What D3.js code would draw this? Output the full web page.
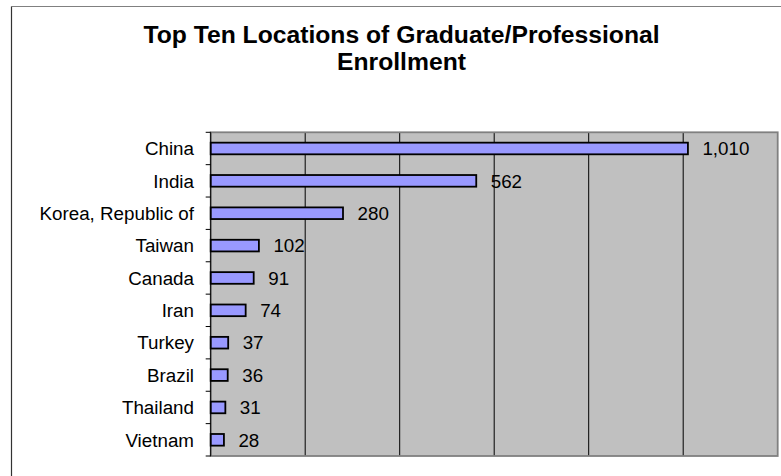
<!DOCTYPE html>
<html>
<head>
<meta charset="utf-8">
<script src="https://cdn.jsdelivr.net/npm/d3@7"></script>
<style>
  html, body { margin: 0; padding: 0; background: #fff; }
  svg { display: block; }
  text { font-family: "Liberation Sans", Arial, sans-serif; }
</style>
</head>
<body>
<div id="chart"></div>
<script>
// ---- data ----
const categories = ["China", "India", "Korea, Republic of", "Taiwan", "Canada", "Iran", "Turkey", "Brazil", "Thailand", "Vietnam"];
const values = [1010, 562, 280, 102, 91, 74, 37, 36, 31, 28];
const xTicks = [0, 200, 400, 600, 800, 1000, 1200];
const titleLines = ["Top Ten Locations of Graduate/Professional", "Enrollment"];

// ---- layout ----
const W = 781, H = 476;
const plot = { left: 210.7, right: 777.7, top: 132.3, bottom: 456 };

const svg = d3.select("#chart").append("svg")
  .attr("width", W).attr("height", H);

svg.append("rect").attr("width", W).attr("height", H).attr("fill", "#fff");

// outer chart border (extends beyond the image at right/bottom)
svg.append("line").attr("x1", 11.5).attr("x2", W + 5).attr("y1", 6.5).attr("y2", 6.5)
  .attr("stroke", "#808080").attr("stroke-width", 1.2);
svg.append("line").attr("x1", 11.5).attr("x2", 11.5).attr("y1", 6.5).attr("y2", H + 5)
  .attr("stroke", "#333").attr("stroke-width", 1.2);

// title
svg.append("g").selectAll("text").data(titleLines).join("text")
  .attr("x", 401.5)
  .attr("y", (d, i) => 43.3 + i * 26.7)
  .attr("text-anchor", "middle")
  .attr("font-size", 24.7)
  .attr("font-weight", "bold")
  .attr("fill", "#000")
  .text(d => d);

// scales
const x = d3.scaleLinear().domain([xTicks[0], xTicks[xTicks.length - 1]]).range([plot.left, plot.right]);
const y = d3.scaleBand().domain(categories).range([plot.top, plot.bottom])
  .paddingInner(0.64).paddingOuter(0.32);

// plot background
svg.append("rect")
  .attr("x", plot.left).attr("y", plot.top)
  .attr("width", plot.right - plot.left).attr("height", plot.bottom - plot.top)
  .attr("fill", "#C0C0C0");

// gridlines
svg.append("g").selectAll("line").data(xTicks.slice(1, -1)).join("line")
  .attr("x1", d => x(d)).attr("x2", d => x(d))
  .attr("y1", plot.top).attr("y2", plot.bottom)
  .attr("stroke", "#000").attr("stroke-width", 1);

// plot border
svg.append("rect")
  .attr("x", plot.left).attr("y", plot.top)
  .attr("width", plot.right - plot.left).attr("height", plot.bottom - plot.top)
  .attr("fill", "none").attr("stroke", "#808080").attr("stroke-width", 1.8);

// bars
svg.append("g").selectAll("rect").data(values).join("rect")
  .attr("x", x(0))
  .attr("y", (d, i) => y(categories[i]))
  .attr("width", d => x(d) - x(0))
  .attr("height", y.bandwidth())
  .attr("fill", "#9999FF")
  .attr("stroke", "#000")
  .attr("stroke-width", 1.8);

// category axis line + ticks at band boundaries
const step = y.step();
const boundaries = d3.range(categories.length + 1).map(i => plot.top + i * step);
svg.append("line")
  .attr("x1", plot.left).attr("x2", plot.left)
  .attr("y1", plot.top).attr("y2", plot.bottom)
  .attr("stroke", "#000").attr("stroke-width", 1);
svg.append("g").selectAll("line").data(boundaries).join("line")
  .attr("x1", plot.left - 5).attr("x2", plot.left)
  .attr("y1", d => d).attr("y2", d => d)
  .attr("stroke", "#000").attr("stroke-width", 1);

// category labels
const fs = 18.8;
svg.append("g").selectAll("text").data(categories).join("text")
  .attr("x", 194)
  .attr("y", d => y(d) + y.bandwidth() / 2 + 0.358 * fs)
  .attr("text-anchor", "end")
  .attr("font-size", fs)
  .attr("fill", "#000")
  .text(d => d);

// value labels
const fmt = d3.format(",");
svg.append("g").selectAll("text").data(values).join("text")
  .attr("x", d => x(d) + 14.5)
  .attr("y", (d, i) => y(categories[i]) + y.bandwidth() / 2 + 0.358 * fs)
  .attr("text-anchor", "start")
  .attr("font-size", fs)
  .attr("fill", "#000")
  .text(d => fmt(d));
</script>
</body>
</html>
